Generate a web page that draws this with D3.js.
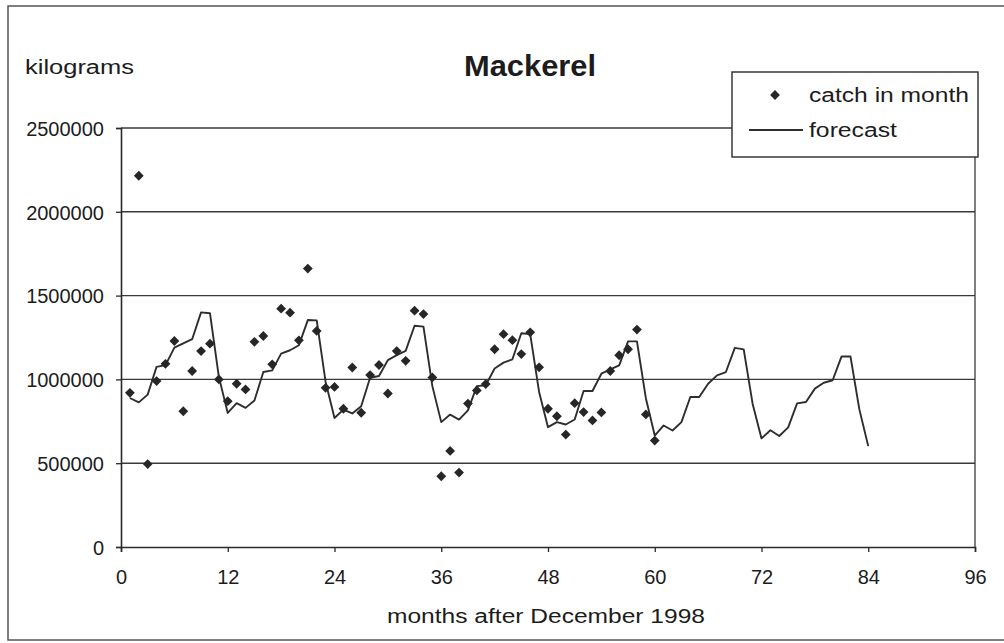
<!DOCTYPE html>
<html>
<head>
<meta charset="utf-8">
<script src="https://cdn.jsdelivr.net/npm/d3@7"></script>
<style>
  body { margin: 0; background: #fff; }
  text { font-family: "Liberation Sans", Arial, sans-serif; fill: #1c1c1c; }
</style>
</head>
<body>
<svg id="chart" width="1004" height="643"></svg>
<script>
// monthly catch, months 1..60 after Dec 1998 (kg)
const catchKg = [
  920000, 2215000, 495000, 990000, 1093000, 1229000, 810000, 1050000, 1169000, 1213000, 1000000, 870000,
  974000, 940000, 1224000, 1259000, 1090000, 1422000, 1398000, 1233000, 1661000, 1289000, 950000, 955000,
  825000, 1071000, 801000, 1026000, 1086000, 916000, 1169000, 1111000, 1410000, 1390000, 1012000, 422000,
  573000, 444000, 856000, 934000, 972000, 1180000, 1270000, 1234000, 1151000, 1281000, 1072000, 825000,
  780000, 671000, 858000, 805000, 755000, 803000, 1050000, 1144000, 1180000, 1297000, 791000, 635000
];

// forecast, months 1..84
const forecastKg = [
  889000, 863000, 909000, 1075000, 1085000, 1190000, 1215000, 1240000, 1400000, 1395000, 1015000, 800000,
  858000, 830000, 874000, 1044000, 1054000, 1154000, 1174000, 1204000, 1354000, 1352000, 985000, 770000,
  820000, 797000, 840000, 1010000, 1020000, 1115000, 1145000, 1170000, 1320000, 1315000, 960000, 745000,
  790000, 760000, 815000, 960000, 965000, 1065000, 1100000, 1120000, 1275000, 1270000, 925000, 715000,
  745000, 731000, 761000, 931000, 931000, 1034000, 1060000, 1084000, 1227000, 1227000, 888000, 665000,
  725000, 695000, 745000, 895000, 895000, 974000, 1024000, 1044000, 1188000, 1179000, 855000, 648000,
  697000, 662000, 714000, 857000, 865000, 945000, 980000, 995000, 1137000, 1137000, 821000, 602000
];

const xTicks = [0, 12, 24, 36, 48, 60, 72, 84, 96];
const yTicks = [0, 500000, 1000000, 1500000, 2000000, 2500000];

const svg = d3.select('#chart');
const ink = '#2a2a2a';

// outer frame of the scanned chart
svg.append('rect')
  .attr('x', 8).attr('y', 6)
  .attr('width', 1010).attr('height', 634)
  .attr('fill', 'none').attr('stroke', '#555').attr('stroke-width', 1.5);

const x = d3.scaleLinear().domain([0, 96]).range([121, 975]);
const y = d3.scaleLinear().domain([0, 2500000]).range([547, 128]);

// gridlines
svg.append('g')
  .selectAll('line')
  .data(yTicks.slice(1))
  .enter().append('line')
  .attr('x1', x(0)).attr('x2', x(96))
  .attr('y1', (d) => y(d)).attr('y2', (d) => y(d))
  .attr('stroke', '#3a3a3a').attr('stroke-width', 1.4);

// right edge of plot area
svg.append('line')
  .attr('x1', x(96)).attr('x2', x(96))
  .attr('y1', y(0)).attr('y2', y(2500000))
  .attr('stroke', '#3a3a3a').attr('stroke-width', 1.3);

const yAxis = svg.append('g')
  .attr('transform', `translate(${x(0)},0)`)
  .call(d3.axisLeft(y).tickValues(yTicks).tickSize(5).tickPadding(12).tickFormat(d3.format('d')));

const xAxis = svg.append('g')
  .attr('transform', `translate(0,${y(0)})`)
  .call(d3.axisBottom(x).tickValues(xTicks).tickSize(5).tickPadding(18));

[yAxis, xAxis].forEach((g) => {
  g.select('.domain').attr('stroke', ink).attr('stroke-width', 1.6);
  g.selectAll('.tick line').attr('stroke', ink).attr('stroke-width', 1.3);
  g.selectAll('.tick text')
    .attr('fill', '#1c1c1c')
    .style('font-family', '"Liberation Sans", Arial, sans-serif')
    .style('font-size', '20px');
});
yAxis.selectAll('.tick text').attr('dy', '0.36em');

// forecast line
const line = d3.line()
  .x((d, i) => x(i + 1))
  .y((d) => y(d));

svg.append('path')
  .datum(forecastKg)
  .attr('d', line)
  .attr('fill', 'none')
  .attr('stroke', '#2e2e2e')
  .attr('stroke-width', 1.9)
  .attr('stroke-linejoin', 'round');

// catch markers (diamonds)
const diamond = d3.symbol().type(d3.symbolSquare).size(48);

svg.append('g')
  .selectAll('path')
  .data(catchKg)
  .enter().append('path')
  .attr('d', diamond)
  .attr('transform', (d, i) => `translate(${x(i + 1)},${y(d)}) rotate(45)`)
  .attr('fill', '#262626');

// titles
svg.append('text')
  .attr('x', 530).attr('y', 76)
  .attr('text-anchor', 'middle')
  .attr('textLength', 132).attr('lengthAdjust', 'spacingAndGlyphs')
  .style('font-size', '29px').style('font-weight', 'bold')
  .text('Mackerel');

svg.append('text')
  .attr('x', 25).attr('y', 74)
  .attr('textLength', 109).attr('lengthAdjust', 'spacingAndGlyphs')
  .style('font-size', '20px')
  .text('kilograms');

svg.append('text')
  .attr('x', 546).attr('y', 623)
  .attr('text-anchor', 'middle')
  .attr('textLength', 318).attr('lengthAdjust', 'spacingAndGlyphs')
  .style('font-size', '20px')
  .text('months after December 1998');

// legend
const legend = svg.append('g');

legend.append('rect')
  .attr('x', 732).attr('y', 72)
  .attr('width', 246).attr('height', 85)
  .attr('fill', '#fff').attr('stroke', ink).attr('stroke-width', 1.4);

legend.append('path')
  .attr('d', diamond)
  .attr('transform', 'translate(775,95) rotate(45)')
  .attr('fill', '#262626');

legend.append('text')
  .attr('x', 809).attr('y', 102)
  .attr('textLength', 160).attr('lengthAdjust', 'spacingAndGlyphs')
  .style('font-size', '20px')
  .text('catch in month');

legend.append('line')
  .attr('x1', 749).attr('x2', 803)
  .attr('y1', 130).attr('y2', 130)
  .attr('stroke', '#2e2e2e').attr('stroke-width', 1.9);

legend.append('text')
  .attr('x', 809).attr('y', 137)
  .attr('textLength', 88).attr('lengthAdjust', 'spacingAndGlyphs')
  .style('font-size', '20px')
  .text('forecast');
</script>
</body>
</html>
